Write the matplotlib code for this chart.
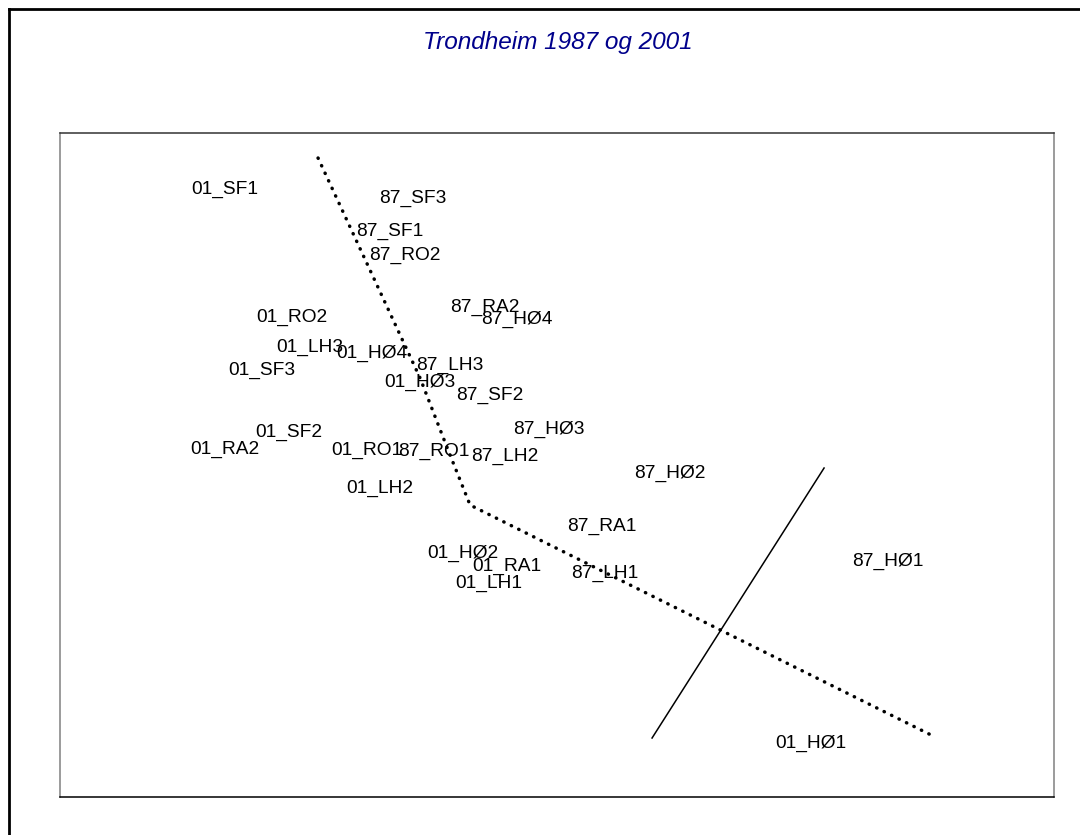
import matplotlib
matplotlib.use('Agg')
import matplotlib.pyplot as plt
from matplotlib.lines import Line2D

# Ordinasjon: prøvefelt Trondheim 1987 og 2001
etiketter = ['01_SF1', '87_SF3', '87_SF1', '87_RO2', '87_RA2', '87_HØ4', '01_RO2',
             '01_LH3', '01_HØ4', '87_LH3', '01_SF3', '01_HØ3', '87_SF2', '87_HØ3',
             '01_SF2', '01_RA2', '01_RO1', '87_RO1', '87_LH2', '87_HØ2', '01_LH2',
             '87_RA1', '01_HØ2', '01_RA1', '87_LH1', '01_LH1', '87_HØ1', '01_HØ1']
akse1 = [0.65, 2.53, 2.30, 2.45, 3.25, 3.57, 1.32,
         1.50, 2.12, 2.90, 1.02, 2.60, 3.30, 3.89,
         1.29, 0.65, 2.07, 2.74, 3.45, 5.10, 2.20,
         4.42, 3.03, 3.47, 4.45, 3.29, 7.28, 6.51]
akse2 = [5.11, 5.02, 4.69, 4.45, 3.93, 3.81, 3.83,
         3.53, 3.47, 3.35, 3.30, 3.18, 3.05, 2.71,
         2.68, 2.51, 2.50, 2.49, 2.44, 2.27, 2.12,
         1.74, 1.47, 1.34, 1.27, 1.17, 1.39, -0.43]

# gradientkurve (prikket) og skillelinje (heltrukket)
kurve_x = [1.58, 2.60, 2.88, 3.10, 4.40, 7.71]
kurve_y = [5.42, 3.22, 2.50, 1.95, 1.30, -0.35]
linje_x = [4.92, 6.64]
linje_y = [-0.38, 2.32]

fig = plt.figure(figsize=(10.8, 8.35), dpi=100)
ax = fig.add_axes([0.0556, 0.0455, 0.9204, 0.7952])

ax.plot(kurve_x, kurve_y, color='black', linewidth=2.5,
        linestyle=(0, (0.1, 2.3)), dash_capstyle='round')
ax.plot(linje_x, linje_y, color='black', linewidth=1.1)

for navn, x, y in zip(etiketter, akse1, akse2):
    ax.text(x, y, navn, ha='center', va='center', fontsize=13.8,
            family='Liberation Sans', color='black')

ax.set_xlim(-1.0, 8.94)
ax.set_ylim(-0.97, 5.67)
ax.set_xticks([])
ax.set_yticks([])
ax.spines['left'].set_color('#808080')
ax.spines['right'].set_color('#808080')
ax.spines['top'].set_color('#333333')
ax.spines['bottom'].set_color('black')
for s in ax.spines.values():
    s.set_linewidth(1.1)

fig.text(0.5167, 0.9497, 'Trondheim 1987 og 2001', ha='center', va='center',
         fontsize=17.6, family='Liberation Sans', style='italic', color='#00008B')

# ramme rundt figuren (bare venstre og topp)
fig.add_artist(Line2D([0.0079, 0.0079], [0, 0.9892], transform=fig.transFigure,
                      color='black', linewidth=2.0))
fig.add_artist(Line2D([0.0079, 1], [0.9892, 0.9892], transform=fig.transFigure,
                      color='black', linewidth=2.0))

fig.savefig('out.png', dpi=100)
